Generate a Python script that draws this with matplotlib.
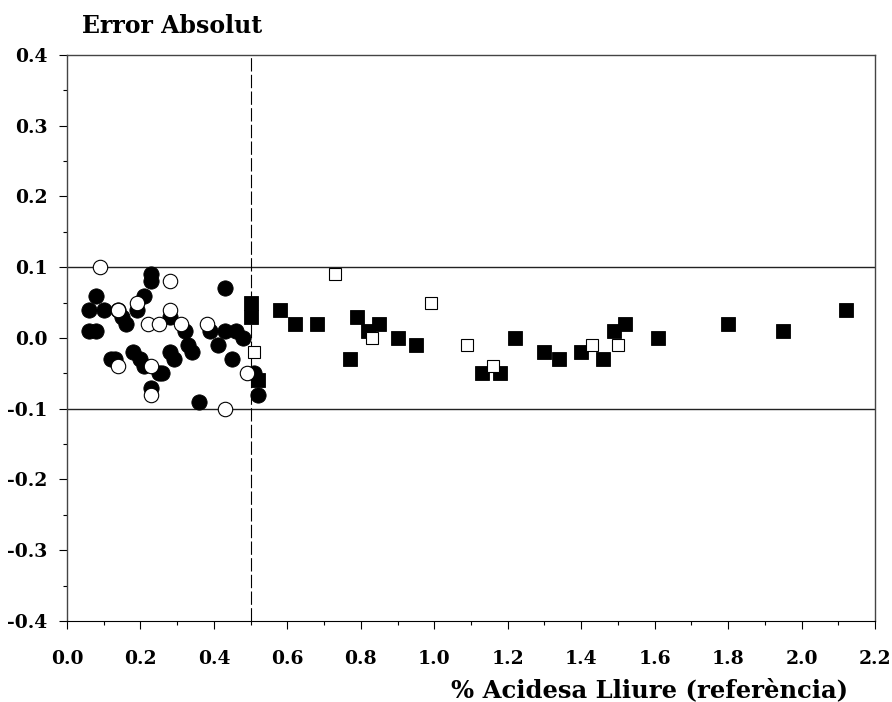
import numpy as np
import matplotlib
matplotlib.use("Agg")
import matplotlib.pyplot as plt
from matplotlib.ticker import MultipleLocator, FormatStrFormatter

plt.rcParams["font.family"] = ["DejaVu Serif"]
plt.rcParams["font.weight"] = "bold"

# filled circles (x, error)
fc_x = [0.06, 0.08, 0.06, 0.08, 0.10, 0.12, 0.13, 0.14, 0.15, 0.16, 0.19, 0.21,
        0.23, 0.23, 0.18, 0.20, 0.21, 0.23, 0.25, 0.26, 0.28, 0.29, 0.28, 0.32,
        0.33, 0.34, 0.36, 0.39, 0.41, 0.43, 0.43, 0.46, 0.48, 0.45, 0.51, 0.52]
fc_y = [0.04, 0.06, 0.01, 0.01, 0.04, -0.03, -0.03, 0.04, 0.03, 0.02, 0.04, 0.06,
        0.09, 0.08, -0.02, -0.03, -0.04, -0.07, -0.05, -0.05, -0.02, -0.03, 0.03, 0.01,
        -0.01, -0.02, -0.09, 0.01, -0.01, 0.07, 0.01, 0.01, 0.00, -0.03, -0.05, -0.08]

# open circles
oc_x = [0.09, 0.28, 0.19, 0.14, 0.28, 0.22, 0.25, 0.31, 0.38, 0.14, 0.23, 0.23, 0.49, 0.43]
oc_y = [0.10, 0.08, 0.05, 0.04, 0.04, 0.02, 0.02, 0.02, 0.02, -0.04, -0.04, -0.08, -0.05, -0.10]

# filled squares
fs_x = [0.50, 0.50, 0.58, 0.62, 0.68, 0.77, 0.79, 0.82, 0.85, 0.90, 0.95, 1.13, 0.52,
        1.18, 1.22, 1.30, 1.34, 1.40, 1.46, 1.49, 1.52, 1.61, 1.80, 1.95, 2.12]
fs_y = [0.05, 0.03, 0.04, 0.02, 0.02, -0.03, 0.03, 0.01, 0.02, 0.00, -0.01, -0.05, -0.06,
        -0.05, 0.00, -0.02, -0.03, -0.02, -0.03, 0.01, 0.02, 0.00, 0.02, 0.01, 0.04]

# open squares
os_x = [0.73, 0.99, 0.83, 0.51, 1.09, 1.16, 1.43, 1.50]
os_y = [0.09, 0.05, 0.00, -0.02, -0.01, -0.04, -0.01, -0.01]

limit = 0.1
split_x = 0.5

fig = plt.figure(figsize=(8.92, 7.02), dpi=100)
ax = fig.add_axes([0.0751, 0.1154, 0.9059, 0.8063])

ax.axhline(limit, color="#222222", lw=1.0, zorder=1)
ax.axhline(-limit, color="#222222", lw=1.0, zorder=1)
ax.axvline(split_x, color="black", lw=0.8, dashes=(12, 3), zorder=1)

ax.plot(fc_x, fc_y, "o", ms=11, mfc="black", mec="black", mew=0.6, zorder=2)
ax.plot(fs_x, fs_y, "s", ms=9.4, mfc="black", mec="black", mew=0.6, zorder=2)
ax.plot(oc_x, oc_y, "o", ms=10.4, mfc="white", mec="black", mew=0.8, zorder=3)
ax.plot(os_x, os_y, "s", ms=9.0, mfc="white", mec="black", mew=0.8, zorder=3)

ax.set_xlim(0, 2.2)
ax.set_ylim(-0.4, 0.4)
ax.xaxis.set_major_locator(MultipleLocator(0.2))
ax.xaxis.set_minor_locator(MultipleLocator(0.1))
ax.yaxis.set_major_locator(MultipleLocator(0.1))
ax.yaxis.set_minor_locator(MultipleLocator(0.05))
ax.xaxis.set_major_formatter(FormatStrFormatter("%.1f"))
ax.yaxis.set_major_formatter(FormatStrFormatter("%.1f"))
ax.tick_params(which="major", direction="out", length=6, width=0.8, labelsize=13.5)
ax.tick_params(which="minor", direction="out", length=3, width=0.8)
ax.tick_params(axis="x", which="major", pad=15)
ax.tick_params(axis="y", which="major", pad=8)
for side in ["left", "top", "right"]:
    ax.spines[side].set_color("#444444")
    ax.spines[side].set_linewidth(1.0)
ax.spines["bottom"].set_color("black")

fig.text(82 / 892, 1 - 26 / 702, "Error Absolut", fontsize=17, fontweight="bold",
         ha="left", va="center")
fig.text(848 / 892, 1 - 690 / 702, "% Acidesa Lliure (referència)", fontsize=17.5,
         fontweight="bold", ha="right", va="center")

fig.savefig("out.png", dpi=100)
